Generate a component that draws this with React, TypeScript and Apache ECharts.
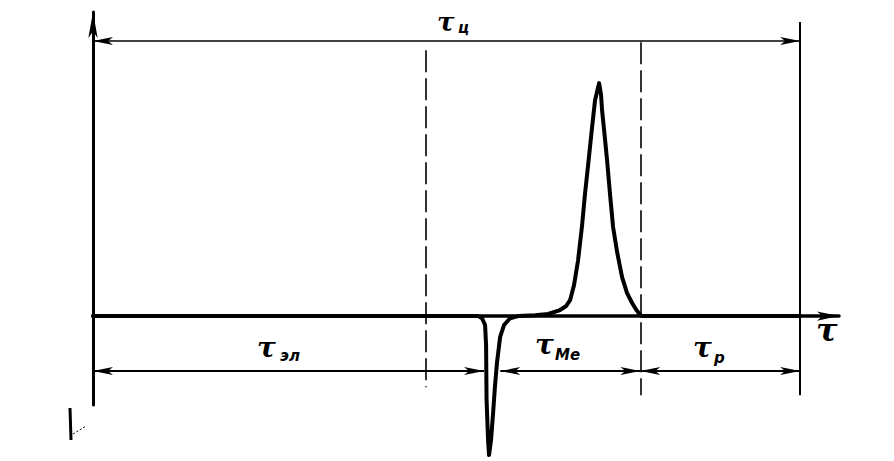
import React, { useEffect, useRef } from 'react';
import * as echarts from 'echarts';

// τ axis in arbitrary units: 0 = left axis, 100 = end of cycle τц
const tau = [
  0, 54.46, 55.02, 55.45, 55.59, 55.66, 55.87, 56.01, 56.29, 56.58, 56.86, 57.14, 57.57, 58.13, 58.98, 60.11,
  62.52, 64.36, 66.05, 66.9, 67.47, 68.03, 68.6, 69.17, 69.59, 70.02, 70.58, 71.0, 71.57, 71.85, 71.99, 72.35,
  72.7, 73.13, 73.55, 74.12, 74.82, 75.53, 76.24, 76.8, 77.51, 100,
];
const signal = [
  0, 0, -0.9, -3.8, -12.4, -35.9, -53, -59.4, -53, -41.5, -29.5, -19.7, -9.0, -3.8, -0.9, 0,
  0.4, 0.9, 2.6, 4.3, 6.8, 13.3, 23.9, 38.9, 52.6, 64.6, 80.8, 92.3, 99.6, 94.5, 88.1, 77.4,
  66.7, 51.7, 38.1, 27.4, 16.7, 9.8, 5.6, 2.8, 0, 0,
];

const cycleSpan = [0, 100];
const cycleLevel = 117.6;
const phaseSpans = [
  [0, 55.3],
  [57.6, 77.4],
  [77.4, 100],
];
const phaseLevel = -23.5;
const dashedBounds = [
  [47.1, 113.7, -30.4],
  [77.4, 117.1, -33.8],
];
const cycleEndLine = [100, 125.7, -33.8];

const labels = [
  { main: 'τ', sub: 'ц', x: 437, y: 22, sx: 458, sy: 28, size: 26 },
  { main: 'τ', sub: 'эл', x: 257, y: 347, sx: 280, sy: 356, size: 28 },
  { main: 'τ', sub: 'Me', x: 535, y: 344, sx: 555, sy: 355, size: 28 },
  { main: 'τ', sub: 'p', x: 693, y: 347, sx: 714, sy: 358, size: 28 },
  { main: 'τ', sub: '', x: 816, y: 330, sx: 0, sy: 0, size: 32 },
];

export default function App() {
  const ref = useRef<HTMLDivElement>(null);
  useEffect(() => {
    if (!ref.current) return;
    const chart = echarts.init(ref.current, undefined, { renderer: 'svg' });
    const graphic: any[] = [];
    labels.forEach((l) => {
      graphic.push({
        type: 'text',
        x: l.x,
        y: l.y,
        style: {
          text: l.main,
          fill: '#000',
          font: `italic bold ${l.size}px "DejaVu Serif", serif`,
          textAlign: 'left',
          textVerticalAlign: 'middle',
          align: 'left',
          verticalAlign: 'middle',
        },
      });
      if (l.sub) {
        graphic.push({
          type: 'text',
          x: l.sx,
          y: l.sy,
          style: {
            text: l.sub,
            fill: '#000',
            font: `italic bold 15px "DejaVu Sans", sans-serif`,
            textAlign: 'left',
            textVerticalAlign: 'middle',
            align: 'left',
            verticalAlign: 'middle',
          },
        });
      }
    });
    graphic.push(
      { type: 'line', shape: { x1: 70, y1: 408, x2: 71, y2: 440 }, style: { stroke: '#000', lineWidth: 3 } },
      { type: 'line', shape: { x1: 73, y1: 434, x2: 86, y2: 426 }, style: { stroke: '#000', lineWidth: 1, lineDash: [2, 2] } }
    );

    const arrowLine = (a: number, b: number, y: number) => [
      { coord: [a, y], symbol: 'arrow', symbolSize: [6, 20] },
      { coord: [b, y], symbol: 'arrow', symbolSize: [6, 20] },
    ];

    chart.setOption({
      animation: false,
      backgroundColor: '#fff',
      grid: { left: 93, right: 55, top: 12, bottom: 56 },
      xAxis: {
        type: 'value',
        min: 0,
        max: 105.5,
        axisLine: {
          show: true,
          onZero: true,
          symbol: ['none', 'arrow'],
          symbolSize: [7, 22],
          lineStyle: { color: '#000', width: 3.5 },
        },
        axisTick: { show: false },
        axisLabel: { show: false },
        splitLine: { show: false },
      },
      yAxis: {
        type: 'value',
        min: -38,
        max: 130,
        axisLine: {
          show: true,
          onZero: false,
          symbol: ['none', 'arrow'],
          symbolSize: [7, 26],
          lineStyle: { color: '#000', width: 3 },
        },
        axisTick: { show: false },
        axisLabel: { show: false },
        splitLine: { show: false },
      },
      graphic,
      series: [
        {
          name: 'signal',
          type: 'line',
          data: tau.map((t, i) => [t, signal[i]]),
          symbol: 'none',
          clip: false,
          z: 5,
          lineStyle: { color: '#000', width: 4, join: 'round', cap: 'round' },
        },
        {
          name: 'cycle',
          type: 'line',
          data: [],
          markLine: {
            silent: true,
            animation: false,
            label: { show: false },
            lineStyle: { color: '#000', width: 1.5, type: 'solid' },
            data: [arrowLine(cycleSpan[0], cycleSpan[1], cycleLevel)],
          },
        },
        {
          name: 'phases',
          type: 'line',
          data: [],
          markLine: {
            silent: true,
            animation: false,
            label: { show: false },
            lineStyle: { color: '#000', width: 2, type: 'solid' },
            data: phaseSpans.map((s) => arrowLine(s[0], s[1], phaseLevel)),
          },
        },
        {
          name: 'bounds',
          type: 'line',
          data: [],
          markLine: {
            silent: true,
            animation: false,
            symbol: ['none', 'none'],
            label: { show: false },
            lineStyle: { color: '#000', width: 1.6, type: [22, 6] },
            data: dashedBounds.map((d) => [{ coord: [d[0], d[1]] }, { coord: [d[0], d[2]] }]),
          },
        },
        {
          name: 'end',
          type: 'line',
          data: [],
          markLine: {
            silent: true,
            animation: false,
            symbol: ['none', 'none'],
            label: { show: false },
            lineStyle: { color: '#000', width: 2, type: 'solid' },
            data: [[{ coord: [cycleEndLine[0], cycleEndLine[1]] }, { coord: [cycleEndLine[0], cycleEndLine[2]] }]],
          },
        },
      ],
    });
    return () => chart.dispose();
  }, []);
  return (
    <div
      ref={ref}
      style={{ position: 'fixed', left: 0, top: 0, width: 894, height: 461, background: '#fff' }}
    />
  );
}
